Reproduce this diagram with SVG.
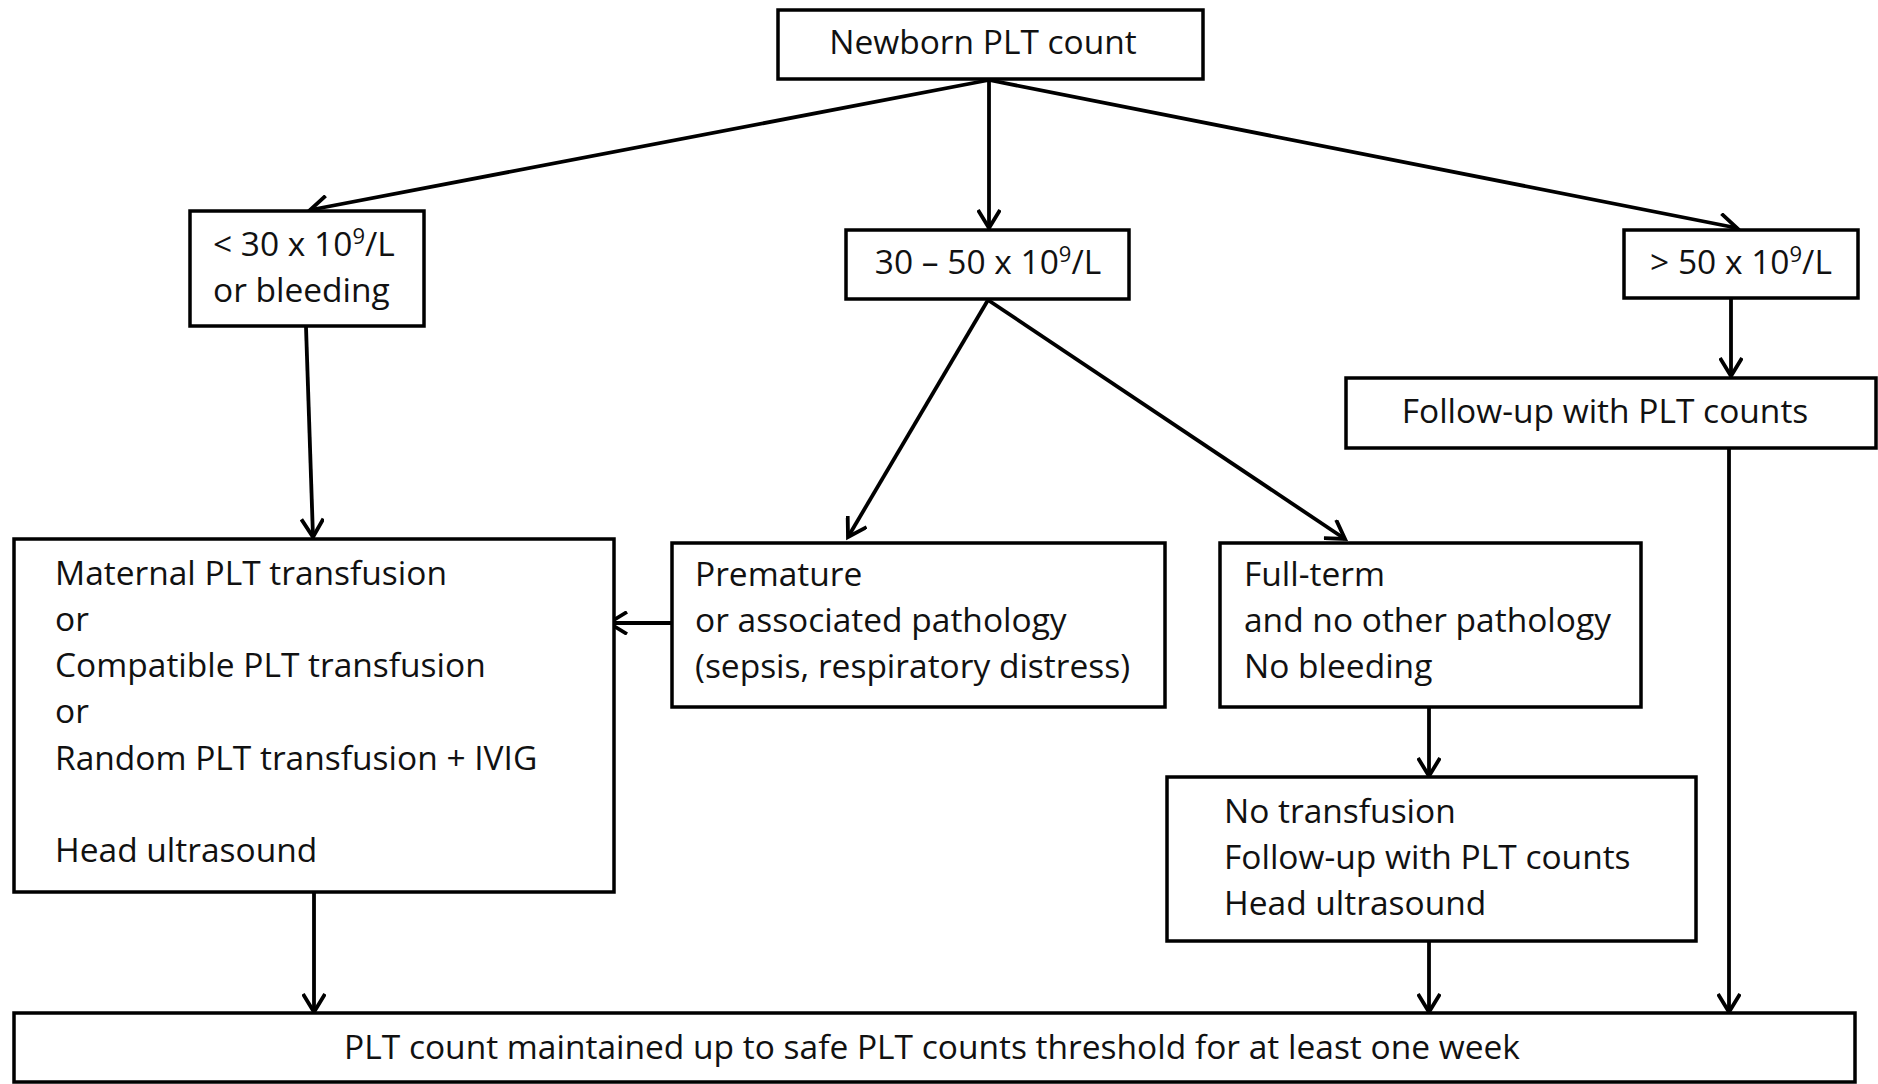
<svg xmlns="http://www.w3.org/2000/svg" width="1878" height="1084" viewBox="0 0 1878 1084">
<style>
  .box { fill: #fff; stroke: #000; stroke-width: 3.5; }
  .t { font-family: "Open Sans", "Liberation Sans", sans-serif; font-size: 33.5px; fill: #111; }
  .c { text-anchor: middle; }
  .edge { fill: none; stroke: #000; stroke-width: 3.8; marker-end: url(#arr); }
</style>
<defs>
  <marker id="arr" viewBox="0 0 24 24" refX="20" refY="12" markerWidth="24" markerHeight="24" markerUnits="userSpaceOnUse" orient="auto">
    <path d="M2,1 L20,12 L2,23" fill="none" stroke="#000" stroke-width="3.8"/>
  </marker>
</defs>
<rect width="1878" height="1084" fill="#fff"/>

<g id="connectors">
  <path class="edge" d="M989,80 L310,210"/>
  <path class="edge" d="M989,80 L989,228"/>
  <path class="edge" d="M989,80 L1737,228"/>
  <path class="edge" d="M306,327 L313,537"/>
  <path class="edge" d="M988,300 L848,537"/>
  <path class="edge" d="M988,300 L1345,539"/>
  <path class="edge" d="M672,623 L609,623"/>
  <path class="edge" d="M1731,299 L1731,376"/>
  <path class="edge" d="M1429,707 L1429,776"/>
  <path class="edge" d="M314,892 L314,1012"/>
  <path class="edge" d="M1429,941 L1429,1012"/>
  <path class="edge" d="M1729,448 L1729,1012"/>
</g>

<g id="node-newborn">
  <rect class="box" x="778" y="10" width="425" height="69"/>
  <text class="t c" x="983" y="54">Newborn PLT count</text>
</g>

<g id="node-lt30">
  <rect class="box" x="190" y="211" width="234" height="115"/>
  <text class="t" x="213" y="256">&lt; 30 x 10<tspan font-size="22" dy="-12">9</tspan><tspan dy="12">/L</tspan></text>
  <text class="t" x="213" y="302">or bleeding</text>
</g>

<g id="node-30-50">
  <rect class="box" x="846" y="230" width="283" height="69"/>
  <text class="t c" x="988" y="274">30 – 50 x 10<tspan font-size="22" dy="-12">9</tspan><tspan dy="12">/L</tspan></text>
</g>

<g id="node-gt50">
  <rect class="box" x="1624" y="230" width="234" height="68"/>
  <text class="t c" x="1741" y="274">&gt; 50 x 10<tspan font-size="22" dy="-12">9</tspan><tspan dy="12">/L</tspan></text>
</g>

<g id="node-followup">
  <rect class="box" x="1346" y="378" width="530" height="70"/>
  <text class="t c" x="1605" y="423">Follow-up with PLT counts</text>
</g>

<g id="node-maternal">
  <rect class="box" x="14" y="539" width="600" height="353"/>
  <text class="t" x="55" y="585">Maternal PLT transfusion</text>
  <text class="t" x="55" y="631">or</text>
  <text class="t" x="55" y="677">Compatible PLT transfusion</text>
  <text class="t" x="55" y="723">or</text>
  <text class="t" x="55" y="770">Random PLT transfusion + IVIG</text>
  <text class="t" x="55" y="862">Head ultrasound</text>
</g>

<g id="node-premature">
  <rect class="box" x="672" y="543" width="493" height="164"/>
  <text class="t" x="695" y="586">Premature</text>
  <text class="t" x="695" y="632">or associated pathology</text>
  <text class="t" x="695" y="678">(sepsis, respiratory distress)</text>
</g>

<g id="node-fullterm">
  <rect class="box" x="1220" y="543" width="421" height="164"/>
  <text class="t" x="1244" y="586">Full-term</text>
  <text class="t" x="1244" y="632">and no other pathology</text>
  <text class="t" x="1244" y="678">No bleeding</text>
</g>

<g id="node-notransfusion">
  <rect class="box" x="1167" y="777" width="529" height="164"/>
  <text class="t" x="1224" y="823">No transfusion</text>
  <text class="t" x="1224" y="869">Follow-up with PLT counts</text>
  <text class="t" x="1224" y="915">Head ultrasound</text>
</g>

<g id="node-maintained">
  <rect class="box" x="14" y="1013" width="1841" height="69"/>
  <text class="t c" x="932" y="1059">PLT count maintained up to safe PLT counts threshold for at least one week</text>
</g>
</svg>
